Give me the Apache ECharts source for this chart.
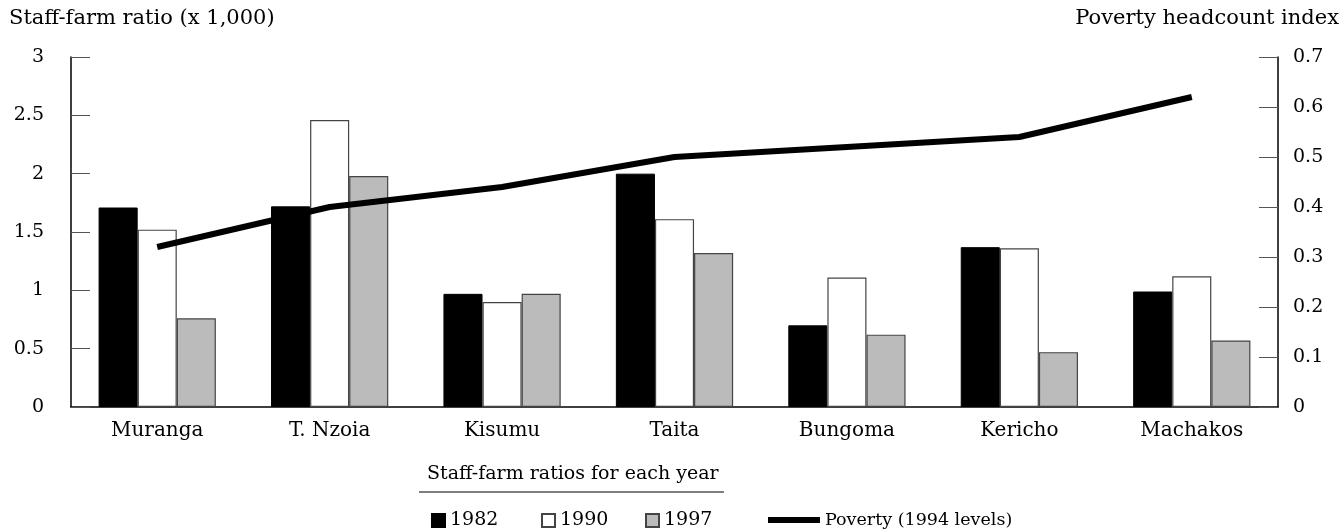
<!DOCTYPE html>
<html>
<head>
<meta charset="utf-8">
<script src="https://cdn.jsdelivr.net/npm/echarts@6/dist/echarts.min.js"></script>
<style>
  html, body { margin: 0; padding: 0; background: #fff; }
  #chart { width: 1342px; height: 529px; }
</style>
</head>
<body>
<div id="chart"></div>
<script>
  // districts and values
  var districts = ['Muranga', 'T. Nzoia', 'Kisumu', 'Taita', 'Bungoma', 'Kericho', 'Machakos']
  var ratio1982 = [1.71, 1.72, 0.97, 2.00, 0.70, 1.37, 0.99]
  var ratio1990 = [1.52, 2.46, 0.90, 1.61, 1.11, 1.36, 1.12]
  var ratio1997 = [0.76, 1.98, 0.97, 1.32, 0.62, 0.47, 0.57]
  var poverty = [0.32, 0.40, 0.44, 0.50, 0.52, 0.54, 0.62]
  var leftTicks = [0, 0.5, 1, 1.5, 2, 2.5, 3]
  var rightTicks = [0, 0.1, 0.2, 0.3, 0.4, 0.5, 0.6, 0.7]

  var serif = '"DejaVu Serif", "Liberation Serif", serif'
  function txt (size) {
    return { fontFamily: serif, fontSize: size, color: '#000' }
  }

  var chart = echarts.init(document.getElementById('chart'), null, { renderer: 'canvas' })

  // one legend per item so each sits where the picture has it
  function legendAt (x, name, w, h, size) {
    return {
      left: x, top: 506, itemWidth: w, itemHeight: h, itemGap: 0,
      icon: 'rect', textStyle: txt(size), data: [name]
    }
  }

  var option = {
    backgroundColor: '#fff',
    animation: false,
    textStyle: { fontFamily: serif },
    grid: { left: 71, right: 64, top: 57, bottom: 122, containLabel: false },
    legend: [
      legendAt(426, '1982', 13, 13, 19),
      legendAt(536, '1990', 13, 13, 19),
      legendAt(640, '1997', 13, 13, 19),
      legendAt(763, 'Poverty (1994 levels)', 52, 6, 17.5)
    ],
    graphic: [
      { type: 'text', left: 9, top: 8, style: { text: 'Staff-farm ratio (x 1,000)', font: '21px ' + serif, fill: '#000' } },
      { type: 'text', right: 3, top: 8, style: { text: 'Poverty headcount index', font: '21px ' + serif, fill: '#000' } },
      { type: 'text', left: 427, top: 465, style: { text: 'Staff-farm ratios for each year', font: '19px ' + serif, fill: '#000' } },
      { type: 'line', shape: { x1: 419, y1: 492, x2: 724, y2: 492 }, style: { stroke: '#000', lineWidth: 1.2 } }
    ],
    xAxis: {
      type: 'category',
      data: districts,
      axisLine: { lineStyle: { color: '#000', width: 1.5 } },
      axisTick: { show: false },
      axisLabel: Object.assign({ margin: 14 }, txt(20))
    },
    yAxis: [
      {
        type: 'value',
        min: 0,
        max: 3,
        interval: 0.5,
        axisLine: { show: true, lineStyle: { color: '#000', width: 1.5 } },
        axisTick: { show: true, inside: true, length: 19, lineStyle: { color: '#555', width: 1 } },
        splitLine: { show: false },
        axisLabel: Object.assign({ margin: 27, formatter: function (v) { return leftTicks.indexOf(v) >= 0 ? String(v) : '' } }, txt(19))
      },
      {
        type: 'value',
        min: 0,
        max: 0.7,
        interval: 0.1,
        position: 'right',
        axisLine: { show: true, lineStyle: { color: '#000', width: 1.5 } },
        axisTick: { show: true, inside: true, length: 19, lineStyle: { color: '#555', width: 1 } },
        splitLine: { show: false },
        axisLabel: Object.assign({ margin: 15, formatter: function (v) {
          var r = Math.round(v * 10) / 10
          return rightTicks.indexOf(r) >= 0 ? String(r) : ''
        } }, txt(19))
      }
    ],
    series: [
      {
        name: '1982', type: 'bar', data: ratio1982, barGap: '0%', barCategoryGap: '32%',
        itemStyle: { color: '#000', borderColor: '#000', borderWidth: 1 }
      },
      {
        name: '1990', type: 'bar', data: ratio1990,
        itemStyle: { color: '#fff', borderColor: '#444', borderWidth: 1.2 }
      },
      {
        name: '1997', type: 'bar', data: ratio1997,
        itemStyle: { color: '#bbbbbb', borderColor: '#444', borderWidth: 1.2 }
      },
      {
        name: 'Poverty (1994 levels)', type: 'line', yAxisIndex: 1, data: poverty,
        symbol: 'none', z: 5,
        lineStyle: { color: '#000', width: 6 },
        itemStyle: { color: '#000' }
      }
    ]
  }

  chart.setOption(option)
</script>
</body>
</html>
